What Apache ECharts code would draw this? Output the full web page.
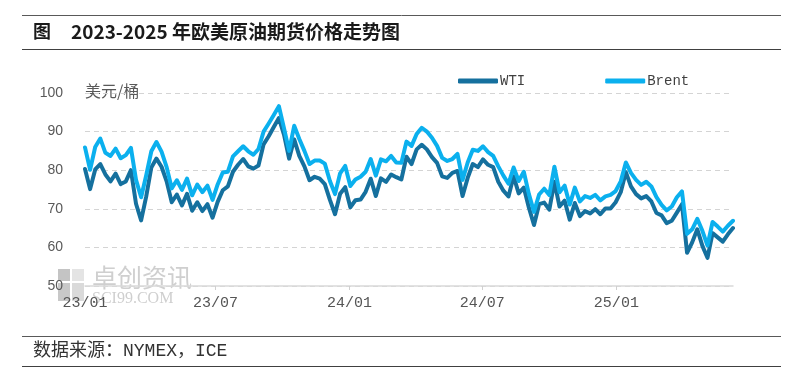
<!DOCTYPE html>
<html>
<head>
<meta charset="utf-8">
<script src="https://cdn.jsdelivr.net/npm/echarts@6/dist/echarts.min.js"></script>
<style>
html,body{margin:0;padding:0;background:#fff;}
#chart{width:801px;height:377px;}
</style>
</head>
<body>
<div id="chart"></div>
<script>
// Weekly observations (every 7 days from 2023-01-03), USD/bbl
const startDate = [2023, 0, 3];
const wti = [
80.3,75.1,80.2,81.6,78.9,77.1,79.1,76.4,77.1,80.0,
71.3,67.0,73.2,80.7,83.0,80.9,77.1,71.7,73.7,70.9,
73.9,69.5,71.7,69.4,71.2,67.7,71.8,74.8,75.8,79.6,
81.4,82.9,81.0,80.4,81.2,86.7,88.8,91.2,93.5,89.2,
83.0,88.0,83.7,81.0,77.4,78.3,77.8,76.4,72.3,68.6,
73.9,75.6,70.4,72.2,72.4,74.4,77.8,73.3,77.9,77.0,
78.9,78.2,77.6,83.5,81.6,85.4,86.6,85.4,83.4,81.9,
78.4,78.0,79.3,79.8,73.3,78.0,81.6,80.8,82.8,81.4,
80.8,77.0,74.7,73.2,78.4,74.0,75.5,70.3,65.8,71.2,
71.6,69.8,77.0,70.6,72.1,67.2,71.5,68.1,69.4,68.8,
69.9,68.6,70.1,70.1,71.7,74.3,79.5,75.8,73.8,72.7,
73.3,71.9,68.9,68.3,66.3,66.9,69.0,71.2,58.6,61.3,
64.7,60.4,57.3,63.7,62.6,61.5,63.4,65.0
];
const brent = [
85.9,80.1,86.0,88.2,84.5,83.7,85.6,83.1,83.9,85.8,
77.5,73.0,78.7,84.9,87.3,84.8,80.8,75.3,77.4,74.9,
77.8,73.5,76.3,74.3,76.0,72.3,76.3,79.4,79.6,83.6,
84.9,86.2,84.9,84.0,85.5,90.0,92.1,94.3,96.6,90.9,
85.0,91.5,88.1,85.0,81.6,82.5,82.5,81.7,77.2,73.8,
79.2,81.1,75.9,77.6,78.3,79.6,82.9,78.6,82.8,82.3,
83.7,82.0,81.9,87.4,86.3,89.4,91.0,90.0,88.4,86.3,
83.2,82.4,82.9,84.2,77.5,82.0,85.3,85.0,86.2,84.7,
83.7,81.0,78.6,76.5,80.7,77.2,79.6,73.8,69.2,73.7,
75.2,73.6,80.9,74.3,76.0,71.1,75.5,71.9,73.3,72.8,
73.6,72.2,73.2,73.6,74.6,77.1,82.0,79.3,77.5,76.2,
77.0,75.8,73.0,71.0,69.6,70.6,73.0,74.5,63.5,64.7,
67.4,64.3,60.5,66.6,65.4,64.1,65.6,66.9
];
const tickLabels = ['23/01','23/07','24/01','24/07','25/01'];
const tickDates = [[2023,0,3],[2023,6,1],[2024,0,1],[2024,6,1],[2025,0,1]];
const axisEnd = [2025,5,10];
const yTicks = [50,60,70,80,90,100];

const DAY = 86400000;
function dayOf(a){ return Math.round((Date.UTC(a[0],a[1],a[2]) - Date.UTC(startDate[0],startDate[1],startDate[2]))/DAY); }
const days = wti.map((_, i) => 7*i);
const tickDays = tickDates.map(dayOf);

const chart = echarts.init(document.getElementById('chart'), null, {renderer:'canvas'});
const monoFont = '"Liberation Mono","DejaVu Sans Mono",monospace';
const cjkFont = '"Noto Sans CJK SC","Noto Sans",sans-serif';

chart.setOption({
  animation:false,
  backgroundColor:'#fff',
  grid:{left:85,right:68,top:93,bottom:91,containLabel:false},
  legend:{
    left:453, top:69, itemWidth:40, itemHeight:5, itemGap:80, icon:'roundRect',
    textStyle:{fontFamily:monoFont,fontSize:14,color:'#404040',padding:[0,0,0,-3]},
    data:['WTI','Brent']
  },
  xAxis:{
    type:'value',
    min: 0, max: dayOf(axisEnd),
    axisLine:{lineStyle:{color:'#d9d9d9',width:1.5}},
    axisTick:{show:true,length:4,lineStyle:{color:'#d0d0d0'},customValues:tickDays.slice(1)},
    axisLabel:{
      customValues:tickDays,
      margin:10,
      fontFamily:monoFont,fontSize:15,color:'#555',
      formatter:function(v){
        let best=0,bd=Infinity;
        tickDays.forEach((t,i)=>{const d=Math.abs(t-v); if(d<bd){bd=d;best=i;}});
        return tickLabels[best];
      }
    },
    splitLine:{show:false}
  },
  yAxis:{
    type:'value', min:yTicks[0], max:yTicks[yTicks.length-1], interval:10,
    axisLine:{show:false}, axisTick:{show:false},
    axisLabel:{margin:22,fontFamily:'"Liberation Sans",Arial,sans-serif',fontSize:14,color:'#595959'},
    splitLine:{show:true,lineStyle:{type:[5,4],color:'#d4d4d4',width:1}}
  },
  series:[
    {name:'WTI',type:'line',showSymbol:false,data:days.map((d,i)=>[d,wti[i]]),
     lineStyle:{width:4,color:'#15709e',cap:'round',join:'round'},itemStyle:{color:'#15709e'},z:3},
    {name:'Brent',type:'line',showSymbol:false,data:days.map((d,i)=>[d,brent[i]]),
     lineStyle:{width:4,color:'#0bb0ee',cap:'round',join:'round'},itemStyle:{color:'#0bb0ee'},z:4}
  ],
  graphic:[
    {type:'line',shape:{x1:22,y1:15.5,x2:781,y2:15.5},style:{stroke:'#595959',lineWidth:1},silent:true},
    {type:'line',shape:{x1:22,y1:49.5,x2:781,y2:49.5},style:{stroke:'#404040',lineWidth:1.2},silent:true},
    {type:'text',left:33,top:22,style:{text:'图',font:'bold 18px '+cjkFont,fill:'#1a1a1a'}},
    {type:'text',left:71,top:22,style:{text:'2023-2025 年欧美原油期货价格走势图',font:'bold 19px '+cjkFont,fill:'#1a1a1a'}},
    {type:'text',left:85,top:83,style:{text:'美元/桶',font:'16px '+cjkFont,fill:'#595959'}},
    {type:'line',shape:{x1:22,y1:336.5,x2:781,y2:336.5},style:{stroke:'#595959',lineWidth:1.2},silent:true},
    {type:'line',shape:{x1:22,y1:366.5,x2:781,y2:366.5},style:{stroke:'#404040',lineWidth:1.2},silent:true},
    {type:'text',left:33,top:342,style:{text:'数据来源：NYMEX，ICE',font:'18px '+monoFont+','+cjkFont,fill:'#333'}},
    {type:'group',left:58,top:265,z:-1,silent:true,children:[
      {type:'rect',shape:{x:0,y:0,width:12,height:12},style:{fill:'#c4c4c4'}},
      {type:'rect',shape:{x:14,y:0,width:12,height:12},style:{fill:'#e4e4e4'}},
      {type:'rect',shape:{x:0,y:14,width:12,height:18},style:{fill:'#c8c8c8'}},
      {type:'rect',shape:{x:14,y:14,width:12,height:18},style:{fill:'#dadada'}},
      {type:'text',x:34,y:-4,style:{text:'卓创资讯',font:'25px '+cjkFont,fill:'#cfcfcf'}},
      {type:'text',x:34,y:22,style:{text:'SCI99.COM',font:'16px "Liberation Serif",serif',fill:'#cfcfcf'}}
    ]}
  ]
});
</script>
</body>
</html>
